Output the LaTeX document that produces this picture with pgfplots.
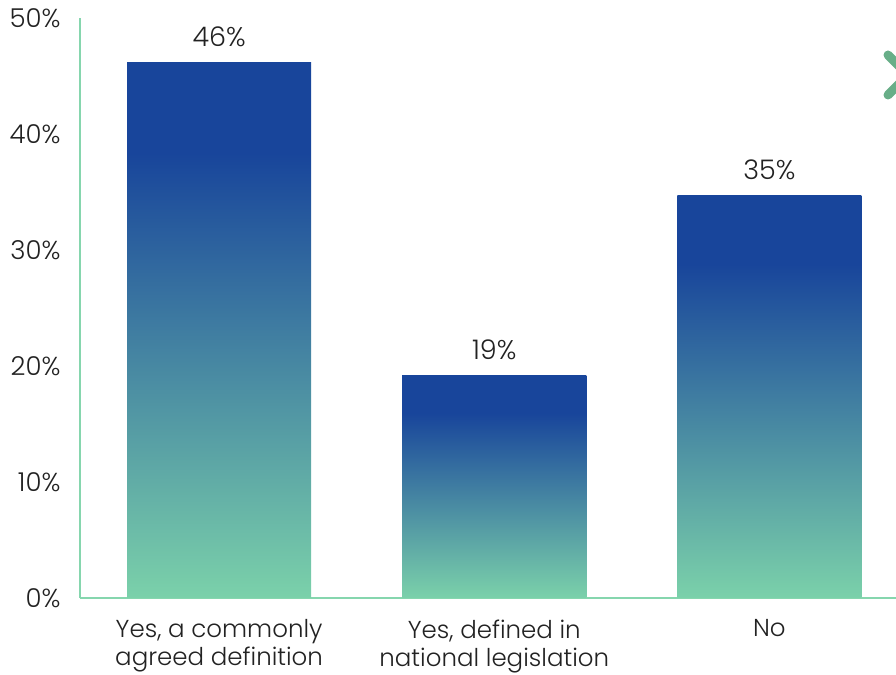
\documentclass[border=0pt]{standalone}
\usepackage{pgfplots}
\pgfplotsset{compat=1.18}
\usepackage{fontspec}
\setmainfont{Poppins}[UprightFont={* Light}]
\definecolor{axisgreen}{HTML}{86D6AE}
\definecolor{bartop}{HTML}{18459B}
\definecolor{barbot}{HTML}{7BD1AA}
\definecolor{txt}{HTML}{222222}
\definecolor{chev}{HTML}{68AE88}
\pgfdeclareverticalshading{barshade}{100bp}{color(0bp)=(barbot); color(25bp)=(barbot); color(66.5bp)=(bartop); color(100bp)=(bartop)}
\begin{document}
\begin{tikzpicture}
\begin{axis}[
  name=ax,
  scale only axis, width=816pt, height=580pt,
  xmin=-0.5055, xmax=2.46, ymin=0, ymax=50,
  axis x line*=bottom, axis y line*=left,
  axis line style={axisgreen, line width=2.5pt},
  ytick={0,10,...,50},
  yticklabel={\pgfmathprintnumber{\tick}\%},
  yticklabel style={font=\fontsize{26}{28}\selectfont, text=txt, xshift=-16pt},
  xtick={0,1,2},
  xticklabels={{Yes, a commonly\\agreed definition},{Yes, defined in\\national legislation},No},
  xticklabel style={font=\fontsize{24.5}{28}\selectfont, text=txt, align=center, yshift=-18pt},
  major tick length=0pt,
  /pgf/number format/assume math mode=true,
  clip=false,
  no markers,
  every axis plot/.append style={ybar, bar width=0.669, draw=none, shade, shading=barshade,
    nodes near coords={\pgfmathprintnumber[fixed,precision=0]{\pgfplotspointmeta}\%},
    every node near coord/.append style={font=\fontsize{27}{30}\selectfont, text=txt, yshift=12pt}},
]
\addplot coordinates {(0,46.2)};
\addplot coordinates {(1,19.2)};
\addplot coordinates {(2,34.7)};
\end{axis}
\draw[overlay, chev, line width=9pt, line cap=round, line join=round]
  ([xshift=-8pt,yshift=-37pt]ax.north east) -- ([xshift=12pt,yshift=-57pt]ax.north east) -- ([xshift=-8pt,yshift=-77pt]ax.north east);
\pgfresetboundingbox
\path ([xshift=-80pt,yshift=-77pt]ax.south west) rectangle ([yshift=18pt]ax.north east);
\end{tikzpicture}
\end{document}
